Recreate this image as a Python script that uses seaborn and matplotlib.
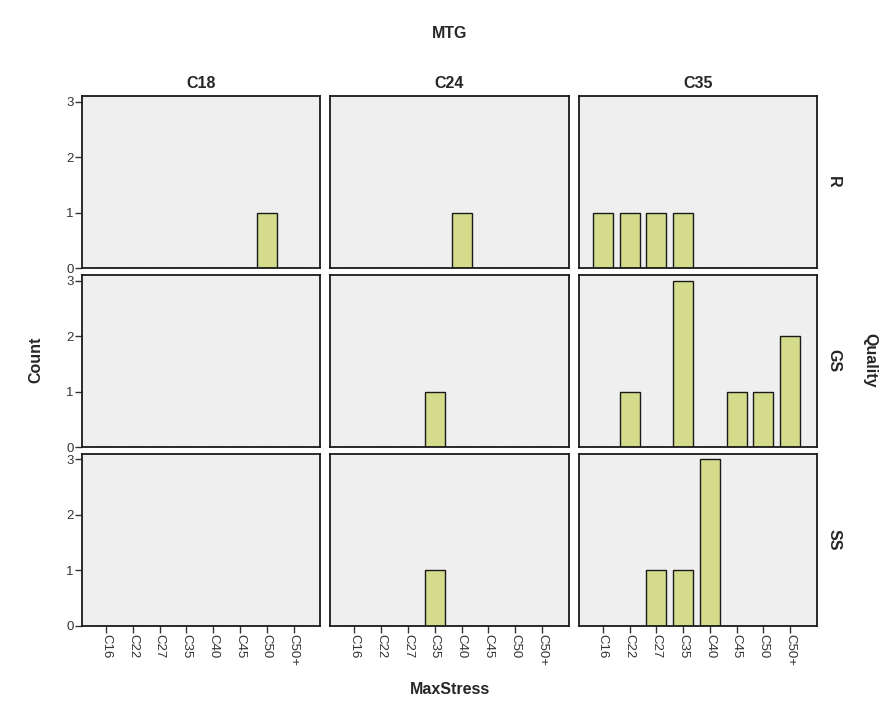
import matplotlib
matplotlib.use('Agg')
import matplotlib.pyplot as plt
import pandas as pd
import seaborn as sns

# facet levels
MTG_LEVELS = ['C18', 'C24', 'C35']
QUALITY_LEVELS = ['R', 'GS', 'SS']
STRESS_LEVELS = ['C16', 'C22', 'C27', 'C35', 'C40', 'C45', 'C50', 'C50+']

# counts per (Quality, MTG) panel, ordered like STRESS_LEVELS
R_C18 = [0, 0, 0, 0, 0, 0, 1, 0]
R_C24 = [0, 0, 0, 0, 1, 0, 0, 0]
R_C35 = [1, 1, 1, 1, 0, 0, 0, 0]
GS_C18 = [0, 0, 0, 0, 0, 0, 0, 0]
GS_C24 = [0, 0, 0, 1, 0, 0, 0, 0]
GS_C35 = [0, 1, 0, 3, 0, 1, 1, 2]
SS_C18 = [0, 0, 0, 0, 0, 0, 0, 0]
SS_C24 = [0, 0, 0, 1, 0, 0, 0, 0]
SS_C35 = [0, 0, 1, 1, 3, 0, 0, 0]

PANELS = {
    ('R', 'C18'): R_C18, ('R', 'C24'): R_C24, ('R', 'C35'): R_C35,
    ('GS', 'C18'): GS_C18, ('GS', 'C24'): GS_C24, ('GS', 'C35'): GS_C35,
    ('SS', 'C18'): SS_C18, ('SS', 'C24'): SS_C24, ('SS', 'C35'): SS_C35,
}

BAR_COLOR = '#d4dc8c'
PANEL_BG = '#efefef'

rows = []
for (quality, mtg), counts in PANELS.items():
    for stress, n in zip(STRESS_LEVELS, counts):
        rows.append({'Quality': quality, 'MTG': mtg, 'MaxStress': stress, 'Count': n})
df = pd.DataFrame(rows)

sns.set_theme(style='white')
plt.rcParams['font.family'] = ['Liberation Sans', 'DejaVu Sans']

g = sns.catplot(
    data=df, x='MaxStress', y='Count', row='Quality', col='MTG',
    row_order=QUALITY_LEVELS, col_order=MTG_LEVELS, order=STRESS_LEVELS,
    kind='bar', color=BAR_COLOR, edgecolor='#1a1a1a', linewidth=1.0,
    width=0.75, saturation=1, errorbar=None, margin_titles=True,
    height=2, aspect=1.2,
)
fig = g.figure
fig.set_size_inches(8.88, 7.08)
fig.set_dpi(100)

g.set_titles(col_template='', row_template='')
for txt in list(fig.texts):
    txt.remove()

for ax in g.axes.flat:
    ax.set_facecolor(PANEL_BG)
    ax.set_ylim(0, 3.1)
    ax.set_xlim(-0.9, 8.0)
    ax.set_yticks([0, 1, 2, 3])
    ax.set_xlabel('')
    ax.set_ylabel('')
    ax.set_title('')
    for side in ax.spines.values():
        side.set_visible(True)
        side.set_color('#1a1a1a')
        side.set_linewidth(1.3)
    ax.tick_params(axis='both', which='both', direction='out', length=5,
                   width=1, color='#333333', labelsize=9.5, labelcolor='#333333',
                   left=True, bottom=True, pad=1)

for i, row_axes in enumerate(g.axes):
    for j, ax in enumerate(row_axes):
        if j > 0:
            ax.tick_params(left=False, labelleft=False)
        if i < len(g.axes) - 1:
            ax.tick_params(bottom=False, labelbottom=False)
        else:
            for lab in ax.get_xticklabels():
                lab.set_rotation(270)
                lab.set_va('top')
                lab.set_ha('center')
        if i == 0:
            ax.set_title(MTG_LEVELS[j], fontsize=11.5, fontweight='bold', pad=6)
        if j == len(row_axes) - 1:
            ax.text(1.07, 0.5, QUALITY_LEVELS[i], transform=ax.transAxes,
                    rotation=270, ha='center', va='center',
                    fontsize=11.5, fontweight='bold')

fig.subplots_adjust(left=82 / 888, right=817 / 888, top=1 - 96 / 708,
                    bottom=1 - 626 / 708, wspace=0.042, hspace=0.04)

fig.text(450 / 888, 1 - 33 / 708, 'MTG', ha='center', va='center',
         fontsize=11.5, fontweight='bold')
fig.text(450 / 888, 1 - 690 / 708, 'MaxStress', ha='center', va='center',
         fontsize=11.5, fontweight='bold')
fig.text(36 / 888, 1 - 360 / 708, 'Count', ha='center', va='center',
         rotation=90, fontsize=11.5, fontweight='bold')
fig.text(870 / 888, 1 - 360 / 708, 'Quality', ha='center', va='center',
         rotation=270, fontsize=11.5, fontweight='bold')

fig.savefig('out.png', dpi=100)
